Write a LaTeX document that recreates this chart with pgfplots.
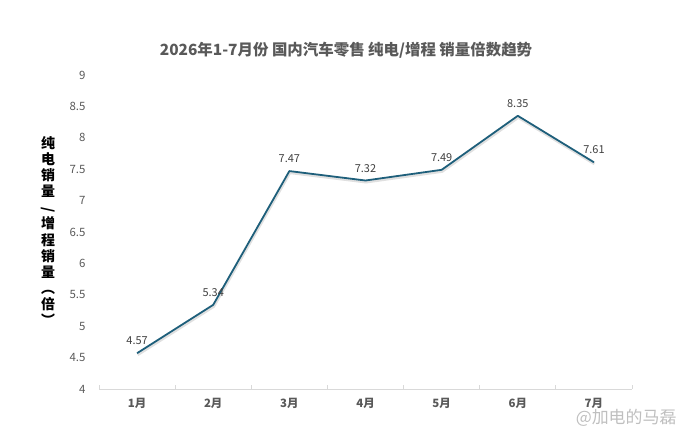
\documentclass[border=0pt]{standalone}
\usepackage{pgfplots}
\pgfplotsset{compat=1.18}
\usepackage{fontspec}
\setmainfont{Noto Sans CJK SC}
\newfontfamily\cjk{Noto Sans CJK SC}
\definecolor{linec}{HTML}{1E5F7B}
\definecolor{tickc}{HTML}{595959}
\definecolor{titlec}{HTML}{595959}
\begin{document}
\begin{tikzpicture}[x=1bp,y=1bp]
\path[use as bounding box] (0,0) rectangle (690,436);
\begin{axis}[
  at={(99bp,47bp)}, anchor=south west,
  scale only axis, width=533bp, height=314bp,
  xmin=-0.5, xmax=6.5, ymin=4, ymax=9,
  axis y line=none,
  axis x line*=bottom,
  x axis line style={draw=black!15, line width=0.8pt},
  xtick={-0.5,0.5,...,6.5},
  xticklabels={},
  extra x ticks={0,1,2,3,4,5,6},
  extra x tick labels={1月,2月,3月,4月,5月,6月,7月},
  extra x tick style={major tick length=0pt, tick label style={font=\fontsize{11.5}{12}\selectfont\bfseries, text=tickc}},
  major tick length=4bp,
  tick style={draw=black!15, line width=0.8pt},
  xticklabel style={yshift=-6bp},
  clip=false,
  /pgf/number format/assume math mode=true,
]
\addplot[draw=black!12, line width=3pt, shift={(0.5bp,-1.5bp)}] coordinates {(0,4.57) (1,5.34) (2,7.47) (3,7.32) (4,7.49) (5,8.35) (6,7.61)};
\addplot[draw=linec, line width=1.8pt, line join=round,
  nodes near coords, point meta=explicit symbolic,
  every node near coord/.style={font=\fontsize{11}{12}\selectfont, text=black!75, anchor=south, yshift=4bp}]
  coordinates {(0,4.57)[4.57] (1,5.34)[5.34] (2,7.47)[7.47] (3,7.32)[7.32] (4,7.49)[7.49] (5,8.35)[8.35] (6,7.61)[7.61]};
\foreach \v in {4,4.5,5,5.5,6,6.5,7,7.5,8,8.5,9} {
  \edef\tmp{\noexpand\node[anchor=east, font=\noexpand\fontsize{11.5}{12}\noexpand\selectfont, text=tickc] at (axis cs:-0.5,\v) [xshift=-10bp] {\v};}
  \tmp
}
\end{axis}
\node[font=\fontsize{15.5}{17}\selectfont\bfseries, text=titlec] at (346,386) {2026年1-7月份 国内汽车零售 纯电/增程 销量倍数趋势};
\node[font=\fontsize{14}{16.2}\selectfont\bfseries, text=black, align=center] at (48,205)
  {纯\\电\\销\\量\\\smash{\rotatebox{90}{/}}\\增\\程\\销\\量\\︵\\倍\\︶};
\node[font=\fontsize{17}{18}\selectfont, text=black!25, anchor=east] at (680,18) {@加电的马磊};
\end{tikzpicture}
\end{document}
